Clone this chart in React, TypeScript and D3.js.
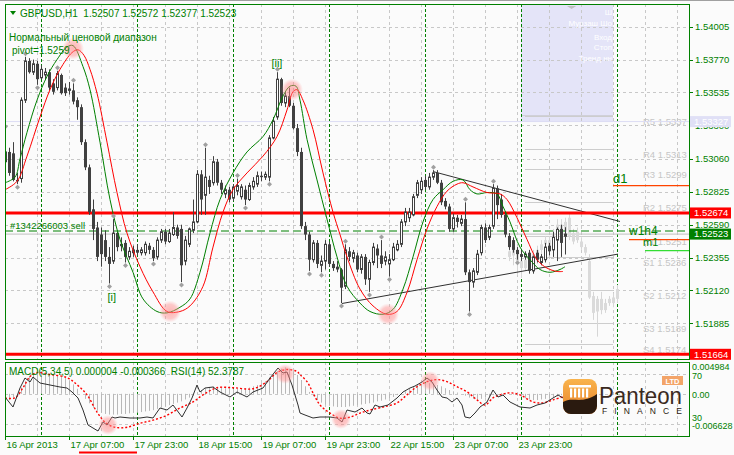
import React from 'react';
import * as d3 from 'd3';

// ---------- DATA ----------
// prices are stored in pips above 1.5000 (value 304 => 1.5304)
const firstBar = 1;
// [open, high, low, close]
const candles: number[][] = [
  [304, 327, 302, 311], [311, 314, 294, 296], [310, 318, 290, 291], [291, 296, 288, 290],
  [292, 350, 289, 348], [348, 379, 346, 376], [376, 378, 367, 368], [368, 377, 366, 374],
  [374, 376, 359, 363], [364, 373, 363, 370], [366, 371, 363, 368], [368, 370, 355, 357],
  [360, 363, 352, 354], [357, 369, 355, 367], [366, 367, 352, 353], [357, 360, 351, 353],
  [355, 361, 352, 356], [355, 360, 345, 347], [348, 350, 334, 343], [343, 345, 316, 318],
  [318, 320, 298, 300], [300, 302, 266, 268], [270, 277, 248, 256], [257, 261, 233, 236],
  [252, 257, 229, 238], [248, 255, 233, 236], [236, 243, 217, 231], [233, 263, 231, 253],
  [253, 254, 240, 243], [244, 250, 240, 245], [246, 248, 232, 236], [236, 243, 234, 240],
  [239, 244, 236, 241], [241, 245, 237, 239], [239, 243, 237, 241], [239, 247, 237, 245],
  [244, 246, 238, 241], [241, 243, 233, 235], [236, 250, 234, 248], [248, 256, 246, 254],
  [254, 256, 245, 247], [247, 256, 246, 253], [252, 268, 251, 257], [257, 259, 249, 251],
  [256, 259, 218, 230], [233, 251, 230, 248], [245, 257, 243, 256], [255, 277, 253, 261],
  [261, 298, 260, 295], [295, 298, 266, 277], [280, 314, 266, 293], [291, 294, 281, 286],
  [289, 308, 287, 304], [304, 306, 287, 289], [289, 291, 281, 284], [281, 287, 278, 284],
  [284, 286, 275, 277], [278, 288, 276, 286], [283, 292, 280, 287], [279, 288, 277, 286],
  [284, 287, 273, 277], [277, 289, 276, 287], [286, 293, 284, 290], [288, 297, 286, 294],
  [294, 297, 290, 293], [293, 297, 291, 295], [293, 323, 290, 321], [321, 336, 320, 333],
  [336, 368, 334, 363], [363, 364, 344, 346], [346, 354, 343, 351], [351, 357, 343, 344],
  [344, 346, 327, 328], [328, 331, 308, 311], [311, 314, 256, 258], [258, 261, 248, 252],
  [252, 254, 226, 234], [234, 248, 232, 246], [246, 248, 228, 231], [230, 237, 225, 233],
  [233, 248, 227, 245], [245, 247, 229, 231], [231, 233, 226, 228], [229, 233, 225, 227],
  [227, 228, 203, 214], [215, 245, 213, 241], [240, 243, 233, 236], [235, 241, 232, 239],
  [237, 239, 225, 227], [227, 238, 224, 236], [236, 238, 216, 220], [220, 234, 211, 232],
  [232, 246, 230, 243], [242, 245, 228, 237], [237, 248, 228, 231], [233, 240, 230, 236],
  [231, 238, 222, 234], [234, 246, 233, 243], [241, 248, 240, 245], [245, 263, 243, 261],
  [261, 271, 258, 268], [264, 271, 261, 268], [266, 281, 265, 279], [280, 291, 278, 289],
  [284, 293, 281, 290], [291, 294, 284, 286], [286, 296, 284, 293], [293, 298, 291, 296],
  [296, 298, 288, 289], [289, 291, 273, 275], [276, 278, 270, 272], [272, 274, 254, 256],
  [256, 267, 254, 264], [264, 266, 257, 261], [260, 266, 258, 263], [263, 275, 223, 225],
  [225, 227, 197, 218], [218, 228, 214, 226], [225, 241, 223, 238], [239, 259, 237, 257],
  [257, 260, 246, 248], [250, 259, 248, 257], [258, 288, 256, 285], [285, 287, 263, 273],
  [277, 281, 264, 266], [266, 268, 250, 252], [251, 253, 241, 243], [248, 250, 239, 241],
  [241, 243, 234, 238], [238, 241, 233, 236], [236, 240, 234, 238], [239, 241, 224, 226],
  [226, 237, 224, 236], [239, 241, 232, 234], [232, 238, 230, 236], [234, 246, 232, 243],
  [244, 246, 237, 240], [241, 254, 236, 250], [248, 257, 233, 255.6], [256, 259, 236, 246],
  [250.7, 257.2, 237.7, 252.3],
];

const ghostFirst = 127;
const ghostCandles: number[][] = [
  [240, 243, 233, 236], [237, 245, 230, 241], [241, 244, 223, 233], [233, 238, 221, 228],
  [228, 238, 226, 234], [234, 241, 228, 238], [238, 241, 230, 233], [233, 244, 231, 241],
  [241, 248, 237, 245], [245, 251, 241, 248], [248, 251, 239, 241], [241, 256, 240, 252],
  [252, 263, 248, 259], [259, 263, 251, 254], [254, 264, 251, 261], [251, 268, 248, 264],
  [253, 256, 245, 247], [248, 257, 246, 254], [247, 250, 241, 243], [243, 245, 237, 239],
  [233, 238, 206, 207], [208, 211, 191, 196], [197, 208, 179, 206], [206, 211, 195, 198],
  [198, 206, 196, 203], [203, 208, 201, 206], [203, 210, 200, 207], [206, 216, 203, 213],
];

// fast (green) and slow (red) smoothed averages: [bar, pips]
const greenMA: number[][] = [
  [1, 289], [3.5, 293], [4.75, 306], [6.5, 325], [9, 348], [11.5, 365], [14, 377], [16.5, 386],
  [18, 387], [20.5, 372], [22.25, 355.5], [24.75, 318], [27.25, 277], [29.75, 248.5], [33, 225],
  [35.5, 206], [39, 197], [41.5, 196], [44.75, 200], [47.25, 206], [49.75, 225], [52.25, 253],
  [54.75, 277], [58, 296], [61.5, 311], [65.5, 322], [68, 334], [70.5, 351], [72.25, 358],
  [73.75, 358], [74.75, 348], [76.5, 320], [79, 291], [81.5, 263], [84, 236], [86.5, 215],
  [89.75, 203], [92.25, 197], [95.5, 195], [98, 198.5], [100.5, 213], [103, 236], [105.5, 261],
  [108, 277], [110.5, 284], [113, 290], [115.5, 291], [117.25, 284], [119, 281], [121.5, 282],
  [124, 281], [125.5, 272], [127.25, 261], [129.75, 243], [132.25, 234], [134.75, 227],
  [137.25, 225], [139.75, 227], [141, 229],
];
const redMA: number[][] = [
  [1, 284], [4, 290], [6.5, 308], [9.75, 336], [12.25, 355.5], [14.75, 370], [17.75, 382],
  [19.25, 384], [20.75, 380], [22.25, 370], [24, 353], [26.5, 318], [29, 282], [31.5, 253],
  [34.75, 229], [38, 211], [41.5, 197], [44.75, 197], [47.25, 201], [50.5, 215], [53, 243],
  [55.5, 268], [58, 284], [61.5, 296], [65.5, 308], [69, 322], [71.5, 341], [73, 354],
  [74, 355.5], [75.5, 348], [78, 327], [80.5, 296], [83, 268], [84.75, 252], [86.5, 236],
  [89.75, 213], [93, 201], [96.5, 195], [99, 197], [101.5, 210.6], [104, 234], [106.5, 256],
  [109, 272], [111.5, 283], [114, 288], [115.5, 289], [118, 286], [121.5, 282], [124.75, 281],
  [126.5, 277], [129, 264], [131.5, 248.5], [134, 234], [136.5, 228], [139, 225.6], [140.5, 225.6],
];

const upFractals = [1, 6, 14, 18, 28, 51, 59, 69, 86, 95, 108, 116, 123];
const downFractals = [4, 9, 27, 31, 38, 45, 61, 67, 77, 80, 85, 92, 97, 117, 129];

// RSI(14): [bar, value]
const rsi: number[][] = [
  [1, 51.6], [3, 43.6], [4.75, 58.8], [6, 66.8], [7.25, 63.6], [8, 67.6], [9.75, 62.8],
  [12.25, 61.2], [14.75, 59.6], [16.5, 58.8], [17.75, 55.6], [19.25, 50.8], [20.5, 41.2],
  [21.75, 29.2], [24.25, 24.4], [25.5, 31.6], [26.5, 29.2], [27.75, 35.6], [28.5, 34.8],
  [29.75, 35.6], [32.25, 34.8], [34.75, 34.8], [36.5, 35.6], [38, 34.8], [39.75, 42.8],
  [41.5, 41.2], [43, 45.2], [45.25, 35.6], [46.5, 42.8], [47.75, 50.8], [49, 61.2],
  [49.75, 55.6], [51, 58.8], [53, 59.6], [54.75, 55.6], [57.25, 51.6], [59, 55.6],
  [61.5, 51.6], [63, 55.6], [65.5, 58.8], [67.25, 66.8], [69.25, 74.8], [70.5, 70.8],
  [71.5, 71.6], [72.75, 61.2], [74.25, 45.2], [74.75, 38.8], [76, 37.2], [78, 34.8],
  [79.75, 35.6], [82.25, 35.6], [84, 34.8], [85.25, 31.6], [86.5, 41.2], [88.5, 39.6],
  [90.25, 42.8], [91.5, 38.8], [92.25, 38], [93.5, 45.2], [94.75, 43.6], [96.75, 45.2],
  [99, 50.8], [100.5, 55.6], [102.25, 58.8], [103.5, 60.4], [105.25, 63.6], [106.5, 66.8],
  [107.75, 63.6], [109, 57.2], [110.25, 51.6], [111.5, 50.8], [112.75, 47.6], [114, 50.8],
  [115.25, 45.2], [116, 35.6], [117.25, 34.8], [118.5, 38.8], [119.75, 43.6], [121.5, 47.6],
  [123, 57.2], [124.25, 51.6], [125.5, 53.2], [127.25, 47.6], [129.75, 43.6], [132.25, 42.8],
  [134, 45.2], [136, 46.8], [138, 50.8], [139.25, 53.2], [140.5, 50.8],
];

// MACD signal, in units of 0.0001: [bar, value]
const macdSignal: number[][] = [
  [1, -6.5], [3.5, -6.5], [5.5, 9.7], [7.25, 27.4], [9, 33.9], [12.25, 30.6], [16.5, 25.8],
  [19, 14.5], [21.5, -1.6], [24, -29], [26, -45.2], [28.5, -53.2], [31.5, -53.2], [34.75, -46.8],
  [38, -41.9], [41.5, -33.9], [44.75, -22.6], [48, -12.9], [50.5, -1.6], [54, 9.7], [58, 9.7],
  [63, 8.1], [66.5, 19.4], [69, 33.9], [71.5, 38.7], [74, 35.5], [74.75, 30.6], [76.5, 19.4],
  [78, 1.6], [79.75, -17.7], [82.25, -30.6], [84.75, -38.7], [87.25, -37.1], [89.75, -30.6],
  [92.25, -25.8], [95.5, -21], [99, -14.5], [101.5, -1.6], [104, 11.3], [106.5, 19.4],
  [109, 22.6], [111.5, 19.4], [114, 11.3], [116.5, 3.2], [119, -9.7], [121, -17.7], [123, -6.5],
  [124.75, -1.6], [127.25, 1.6], [129.75, -1.6], [133, -12.9], [135.5, -14.5], [138, -9.7],
  [140.5, -4.8],
];

// MACD main histogram per bar (bars 1..141), units of 0.0001
const macdHist: number[] = [
  -8, -10, -6, 0, 10, 20, 28, 33, 35, 36, 34, 32, 30, 29, 27, 25, 20, 15, 8, 0,
  -8, -15, -22, -27, -30, -32, -33, -33, -33, -32, -32, -31, -30, -30, -29, -28,
  -27, -26, -24, -22, -20, -18, -16, -14, -12, -9, -6, -3, 2, 6, 9, 11, 12, 11, 10, 9,
  9, 8, 8, 9, 9, 10, 12, 14, 17, 20, 26, 31, 36, 40, 42, 40, 36, 30, 22, 12,
  3, -4, -10, -14, -17, -19, -20, -21, -21, -21, -20, -19, -18, -17, -16, -15,
  -14, -12, -11, -9, -7, -5, -2, 0, 4, 8, 11, 14, 16, 17, 17, 16, 14, 12, 9, 6,
  4, 2, 0, -3, -6, -8, -9, -8, -6, -4, -2, 0, 1, 1, 0, -1, -3, -5, -7, -9,
  -10, -10, -9, -8, -7, -6, -4, -2, 0,
];

const priceTicks = [1.54005, 1.5377, 1.53535, 1.533, 1.5306, 1.52825, 1.5259, 1.52355, 1.5212, 1.51885];
const timeLabels = ['16 Apr 2013', '17 Apr 07:00', '17 Apr 23:00', '18 Apr 15:00', '19 Apr 07:00',
  '19 Apr 23:00', '22 Apr 15:00', '23 Apr 07:00', '23 Apr 23:00'];
const timeLabelBars = [1, 17, 33, 49, 65, 81, 97, 113, 129];
const daySeparatorBars = [10, 34, 58, 82, 106, 130, 154];

const pivotNames = ['R5', 'R4', 'R3', 'R2', 'R1', 'S1', 'S2', 'S3', 'S4'];
const pivotValues = [1.5337, 1.5313, 1.5299, 1.5275, 1.5251, 1.5236, 1.5212, 1.5189, 1.5174];

const redLevels = [1.52674, 1.51664];
const lavenderLevel = 1.53327;
const bidPrice = 1.52523;
const orderPrice = 1.52545;
const d1Level = 1.5287;
const w1h4Level = 1.52484;
const m1Level = 1.52405;

// trendlines [bar, pips]
const upperTrend = [[108, 297], [154.75, 261.3]];
const lowerTrend = [[85.25, 202.7], [154.25, 238]];

// highlight circles
const mainCircles = [[18, 384.8], [42.25, 197], [72.75, 355.5], [96.75, 195]];
const rsiCircles = [[26.75, 29.2], [71, 70], [85, 34], [107.25, 64.4]];

const GREEN = '#008000';
const FONT = "'Liberation Sans', Arial, sans-serif";

export default function App() {
  const x = d3.scaleLinear().domain([0, 172]).range([1, 689]);
  const y = d3.scaleLinear().domain([1.516304, 1.541672]).range([359, 4]);
  const yM = d3.scaleLinear().domain([-0.006628, 0.004984]).range([435.5, 362.5]);
  const yR = d3.scaleLinear().domain([30, 70]).range([424, 374]);
  const P = (v: number) => 1.5 + v / 10000;
  const fmt = d3.format('.5f');

  const maLine = d3.line<number[]>().x(d => x(d[0])).y(d => y(P(d[1]))).curve(d3.curveCatmullRom);
  const rsiLine = d3.line<number[]>().x(d => x(d[0])).y(d => yR(d[1]));
  const sigLine = d3.line<number[]>().x(d => x(d[0])).y(d => yM(d[1] / 10000)).curve(d3.curveCatmullRom);

  const gridX: number[] = d3.range(9, 172, 8);

  const drawCandle = (c: number[], k: number, ghost: boolean, key: string) => {
    const cx = Math.round(x(k));
    const [o, h, l, cl] = c;
    const yo = y(P(o)), yc = y(P(cl));
    const yh = y(P(Math.max(h, o, cl))), yl = y(P(Math.min(l, o, cl)));
    const top = Math.min(yo, yc);
    const bh = Math.max(1, Math.abs(yo - yc));
    const bull = cl >= o;
    if (ghost) {
      return (
        <g key={key}>
          <line x1={cx + 0.5} x2={cx + 0.5} y1={yh} y2={yl} stroke="#d6d6d6" />
          <rect x={cx - 1} y={top} width={3} height={bh} fill="#dadada" />
        </g>
      );
    }
    return (
      <g key={key}>
        <line x1={cx + 0.5} x2={cx + 0.5} y1={yh} y2={yl} stroke="#404040" />
        {bull
          ? <rect x={cx - 0.5} y={top} width={2} height={bh} fill="#ffffff" stroke="#404040" />
          : <rect x={cx - 1} y={top} width={3} height={bh} fill="#404040" />}
      </g>
    );
  };

  const labelBoxes = [
    { v: lavenderLevel, fill: '#e0e0f6' },
    { v: redLevels[0], fill: '#ff0000' },
    { v: bidPrice, fill: GREEN },
    { v: redLevels[1], fill: '#ff0000' },
  ];

  return (
    <svg width={734} height={455} style={{ position: 'absolute', left: 0, top: 0, background: '#fbfbfb' }} fontFamily={FONT}>
      <defs>
        <clipPath id="mainClip"><rect x={5} y={4} width={684} height={355} /></clipPath>
        <clipPath id="subClip"><rect x={5} y={362} width={684} height={74} /></clipPath>
        <radialGradient id="pink">
          <stop offset="0" stopColor="#ff7a7a" stopOpacity={0.55} />
          <stop offset="0.65" stopColor="#ff8c8c" stopOpacity={0.45} />
          <stop offset="1" stopColor="#ffa0a0" stopOpacity={0} />
        </radialGradient>
        <linearGradient id="logoOrange" x1="0" y1="0" x2="0" y2="1">
          <stop offset="0" stopColor="#f9b44c" />
          <stop offset="1" stopColor="#e8802a" />
        </linearGradient>
        <clipPath id="logoClip"><rect x={563} y={379} width={34} height={35} rx={8} /></clipPath>
      </defs>

      <rect x={0} y={0} width={734} height={455} fill="#fbfbfb" />
      <line x1={0} x2={734} y1={0.5} y2={0.5} stroke="#a0a0a0" />

      {/* MAIN PANEL */}
      <g clipPath="url(#mainClip)">
        <rect x={x(130)} y={4} width={x(153) - x(130)} height={y(lavenderLevel) - 4} fill="#e4e4f8" />
        <line x1={x(130)} x2={x(153)} y1={y(1.5337)} y2={y(1.5337)} stroke="#cfcfd8" />
        {priceTicks.map(t => (
          <line key={'hg' + t} x1={5} x2={689} y1={Math.round(y(t)) + 0.5} y2={Math.round(y(t)) + 0.5} stroke="#c8c8c8" strokeDasharray="3,3" />
        ))}
        {gridX.map(k => (
          <line key={'vg' + k} x1={x(k) + 0.5} x2={x(k) + 0.5} y1={4} y2={359} stroke="#c8c8c8" strokeDasharray="3,3" />
        ))}
        {daySeparatorBars.map(k => (
          <line key={'ds' + k} x1={x(k) + 0.5} x2={x(k) + 0.5} y1={4} y2={359} stroke={GREEN} strokeDasharray="3,2" />
        ))}
        {/* faint panel texts */}
        <g fontSize={8} fill="#ffffff" textAnchor="end">
          <text x={612} y={15}>Ш</text>
          <text x={612} y={26}>Мурзаш Шо</text>
          <text x={612} y={40}>Вход</text>
          <text x={612} y={50}>Стоп</text>
          <text x={612} y={61}>Тренд нн</text>
        </g>
        <path d={`M${x(141.5)},6 L${x(143.8)},6 L${x(142.65)},9 Z`} fill="#c0c0c0" />

        {/* pivot levels */}
        {pivotValues.map((v, i) => (
          <g key={'pv' + i}>
            <line x1={x(131)} x2={x(153)} y1={Math.round(y(v)) + 0.5} y2={Math.round(y(v)) + 0.5} stroke="#cdcdcd" />
            <text x={643} y={y(v) + 9} fontSize={9.5} fill="#c6c6c6">{pivotNames[i]} {v.toFixed(4)}</text>
          </g>
        ))}

        <line x1={5} x2={689} y1={y(lavenderLevel)} y2={y(lavenderLevel)} stroke="#dcdcf4" />
        <line x1={5} x2={689} y1={y(bidPrice)} y2={y(bidPrice)} stroke="#c0c0c0" />

        {/* ghost candles */}
        {ghostCandles.map((c, i) => drawCandle(c, ghostFirst + i, true, 'g' + i))}

        {/* trendlines */}
        <line x1={x(upperTrend[0][0])} y1={y(P(upperTrend[0][1]))} x2={x(upperTrend[1][0])} y2={y(P(upperTrend[1][1]))} stroke="#303030" />
        <line x1={x(lowerTrend[0][0])} y1={y(P(lowerTrend[0][1]))} x2={x(lowerTrend[1][0])} y2={y(P(lowerTrend[1][1]))} stroke="#303030" />

        {/* horizontal levels */}
        {redLevels.map(v => (
          <line key={'rl' + v} x1={5} x2={689} y1={y(v)} y2={y(v)} stroke="#ff0000" strokeWidth={3} />
        ))}
        <line x1={5} x2={689} y1={y(orderPrice)} y2={y(orderPrice)} stroke={GREEN} strokeDasharray="8,4" />
        <line x1={x(153)} x2={689} y1={y(d1Level)} y2={y(d1Level)} stroke="#ff4400" strokeWidth={1.3} />
        <line x1={x(157)} x2={689} y1={y(w1h4Level)} y2={y(w1h4Level)} stroke="#ff4400" strokeWidth={1.3} />
        <line x1={x(161)} x2={689} y1={y(m1Level)} y2={y(m1Level)} stroke="#33dd33" strokeWidth={1.3} />

        {/* candles */}
        {candles.map((c, i) => drawCandle(c, firstBar + i, false, 'c' + i))}

        {/* moving averages */}
        <path d={maLine(greenMA) || ''} fill="none" stroke={GREEN} strokeWidth={1} />
        <path d={maLine(redMA) || ''} fill="none" stroke="#ff0000" strokeWidth={1} />

        {/* fractals */}
        {upFractals.map(k => {
          const c = candles[k - firstBar];
          const cx = Math.round(x(k)) + 0.5;
          const yy = y(P(c[1])) - 3;
          return <path key={'uf' + k} d={`M${cx},${yy - 2.5} L${cx + 2.5},${yy} L${cx},${yy + 2.5} L${cx - 2.5},${yy} Z`} fill="#a0a0a0" />;
        })}
        {downFractals.map(k => {
          const c = candles[k - firstBar];
          const cx = Math.round(x(k)) + 0.5;
          const yy = y(P(c[2])) + 3;
          return <path key={'df' + k} d={`M${cx},${yy - 2.5} L${cx + 2.5},${yy} L${cx},${yy + 2.5} L${cx - 2.5},${yy} Z`} fill="#a0a0a0" />;
        })}

        {mainCircles.map((d, i) => (
          <circle key={'mc' + i} cx={x(d[0])} cy={y(P(d[1]))} r={11} fill="url(#pink)" />
        ))}

        {/* texts */}
        <path d="M10,11 L16,11 L13,15 Z" fill={GREEN} />
        <text x={20} y={16.5} fontSize={10} fill={GREEN} style={{ whiteSpace: 'pre' }}>GBPUSD,H1  1.52507 1.52572 1.52377 1.52523</text>
        <text x={9} y={41} fontSize={10} fill={GREEN}>Нормальный ценовой диапазон</text>
        <text x={12} y={53.5} fontSize={10} fill={GREEN}>pivot=1.5259</text>
        <text x={10} y={229} fontSize={9.5} fill={GREEN}>#1342266003 sell</text>
        <text x={x(26.6)} y={301} fontSize={11} fill={GREEN}>[i]</text>
        <text x={x(67.6)} y={67} fontSize={11} fill={GREEN}>[ii]</text>
        <text x={x(153)} y={y(d1Level) - 3} fontSize={13} fill={GREEN}>d1</text>
        <text x={x(157)} y={y(orderPrice) + 4} fontSize={12} fill={GREEN}>w1h4</text>
        <text x={x(160.5)} y={y(w1h4Level) + 6} fontSize={11} fill={GREEN}>m1</text>
      </g>

      {/* SUB PANEL */}
      <g clipPath="url(#subClip)">
        {[yR(70), yM(0), yR(30)].map((v, i) => (
          <line key={'sg' + i} x1={5} x2={689} y1={Math.round(v) + 0.5} y2={Math.round(v) + 0.5} stroke="#c8c8c8" strokeDasharray="3,3" />
        ))}
        {gridX.map(k => (
          <line key={'svg' + k} x1={x(k) + 0.5} x2={x(k) + 0.5} y1={362} y2={436} stroke="#c8c8c8" strokeDasharray="3,3" />
        ))}
        {daySeparatorBars.map(k => (
          <line key={'sds' + k} x1={x(k) + 0.5} x2={x(k) + 0.5} y1={362} y2={436} stroke={GREEN} strokeDasharray="3,2" />
        ))}
        {macdHist.map((v, i) => (
          <line key={'h' + i} x1={Math.round(x(firstBar + i)) + 0.5} x2={Math.round(x(firstBar + i)) + 0.5} y1={yM(0)} y2={yM(v / 10000)} stroke="#b8b8b8" />
        ))}
        <path d={sigLine(macdSignal) || ''} fill="none" stroke="#ff0000" strokeWidth={1.4} strokeDasharray="2,2" />
        <path d={rsiLine(rsi) || ''} fill="none" stroke="#303030" strokeWidth={1} />
        {rsiCircles.map((d, i) => (
          <circle key={'rc' + i} cx={x(d[0])} cy={yR(d[1])} r={10} fill="url(#pink)" />
        ))}
        <text x={9} y={375} fontSize={10} fill={GREEN} style={{ whiteSpace: 'pre' }}>MACD(5,34,5) 0.000004 -0.000366  RSI(14) 52.3787</text>
      </g>

      {/* LOGO */}
      <g>
        <g clipPath="url(#logoClip)">
          <rect x={563} y={379} width={34} height={35} fill="url(#logoOrange)" />
          <path d="M563,402 C572,396 582,405 597,394 L597,414 L563,414 Z" fill="#2a1a0f" />
          <rect x={569} y={385} width={22} height={2.5} fill="#ffffff" />
          {[570, 574, 578, 582, 586].map(cx => (
            <rect key={'col' + cx} x={cx} y={388.5} width={2.2} height={9} fill="#ffffff" />
          ))}
        </g>
        <text x={599} y={404} fontSize={23} fill="#3a2a1e" textLength={83} lengthAdjust="spacingAndGlyphs">Panteon</text>
        <text x={602} y={414} fontSize={8.5} fill="#2a1a0f" textLength={80} lengthAdjust="spacing">FINANCE</text>
        <rect x={662} y={376} width={21} height={9} fill="#f3a468" />
        <text x={672.5} y={383.5} fontSize={7.5} fill="#ffffff" textAnchor="middle" fontWeight="bold">LTD</text>
      </g>

      {/* FRAMES */}
      <rect x={5.5} y={4.5} width={684} height={355} fill="none" stroke={GREEN} />
      <rect x={5.5} y={362.5} width={684} height={74} fill="none" stroke={GREEN} />

      {/* right axis main */}
      {priceTicks.map(t => (
        <g key={'pt' + t}>
          <line x1={689} x2={693} y1={Math.round(y(t)) + 0.5} y2={Math.round(y(t)) + 0.5} stroke={GREEN} />
          <text x={695} y={y(t)} dy="0.35em" fontSize={9.5} fill={GREEN}>{fmt(t)}</text>
        </g>
      ))}
      {labelBoxes.map(b => (
        <g key={'lb' + b.v}>
          <rect x={690} y={y(b.v) - 5.5} width={41} height={11} fill={b.fill} />
          <text x={694} y={y(b.v)} dy="0.35em" fontSize={9.5} fill="#ffffff">{fmt(b.v)}</text>
        </g>
      ))}

      {/* right axis sub */}
      <g fontSize={9} fill={GREEN}>
        <text x={692} y={370}>0.004984</text>
        <text x={692} y={379}>70</text>
        <text x={692} y={398}>0.00</text>
        <text x={692} y={421}>30</text>
        <text x={692} y={429}>-0.006628</text>
      </g>

      {/* time axis */}
      {timeLabels.map((t, i) => {
        const tx = Math.round(x(timeLabelBars[i])) + 0.5;
        return (
          <g key={'tl' + i}>
            <line x1={tx} x2={tx} y1={436} y2={440} stroke={GREEN} />
            <text x={tx + 1} y={448} fontSize={9.5} fill={GREEN}>{t}</text>
          </g>
        );
      })}
      <line x1={x(19.5)} x2={x(34)} y1={452.5} y2={452.5} stroke="#ff0000" strokeWidth={2} />
    </svg>
  );
}
